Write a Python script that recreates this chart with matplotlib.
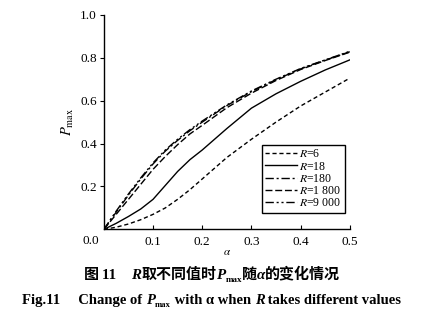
import matplotlib
matplotlib.use('Agg')
import matplotlib.pyplot as plt
from matplotlib.font_manager import FontProperties

# 数据
alpha = [0, 0.025, 0.05, 0.075, 0.1, 0.125, 0.15, 0.175, 0.2, 0.25, 0.3, 0.35, 0.4, 0.45, 0.5]
p_r6 = [0, 0.01, 0.025, 0.045, 0.07, 0.10, 0.14, 0.185, 0.235, 0.335, 0.42, 0.50, 0.575, 0.64, 0.705]
p_r18 = [0, 0.028, 0.06, 0.095, 0.14, 0.205, 0.27, 0.325, 0.37, 0.47, 0.565, 0.632, 0.69, 0.743, 0.79]
p_r180 = [0, 0.08, 0.16, 0.235, 0.305, 0.365, 0.415, 0.46, 0.50, 0.577, 0.642, 0.698, 0.748, 0.789, 0.828]
p_r1800 = [0, 0.07, 0.14, 0.21, 0.28, 0.34, 0.395, 0.445, 0.485, 0.567, 0.635, 0.694, 0.745, 0.787, 0.826]
p_r9000 = [0, 0.085, 0.165, 0.24, 0.31, 0.37, 0.42, 0.465, 0.505, 0.58, 0.645, 0.70, 0.75, 0.79, 0.83]
labels = ['$R$=6', '$R$=18', '$R$=180', '$R$=1 800', '$R$=9 000']
x_ticks = [0.1, 0.2, 0.3, 0.4, 0.5]
y_ticks = [0.2, 0.4, 0.6, 0.8, 1.0]

plt.rcParams['font.family'] = ['Liberation Serif', 'DejaVu Serif']
plt.rcParams['mathtext.fontset'] = 'stix'

fig = plt.figure(figsize=(4.24, 3.30), dpi=100)
ax = fig.add_axes([0.245, 0.305, 0.58, 0.65])

styles = [(0, (3, 2)), '-', (0, (6, 2, 1.5, 2)), (0, (5, 2)), (0, (6, 2, 1.5, 2, 1.5, 2))]
series = [p_r6, p_r18, p_r180, p_r1800, p_r9000]
for ys, ls, lab in zip(series, styles, labels):
    ax.plot(alpha, ys, color='black', linestyle=ls, linewidth=1.0, label=lab)

ax.set_xlim(0, 0.5)
ax.set_ylim(0, 1.0)
ax.set_xticks(x_ticks)
ax.set_yticks(y_ticks)
ax.set_xticklabels(['0.1', '0.2', '0.3', '0.4', '0.5'])
ax.set_yticklabels(['0.2', '0.4', '0.6', '0.8', '1.0'])
ax.tick_params(axis='x', direction='in', length=3, width=0.8, labelsize=9.5, pad=5)
ax.tick_params(axis='y', direction='out', length=3, width=0.8, labelsize=9.5, pad=2)
for s in ['top', 'right']:
    ax.spines[s].set_visible(False)
for s in ['left', 'bottom']:
    ax.spines[s].set_linewidth(1.0)
ax.text(-0.02, -0.025, '0.0', transform=ax.transAxes, ha='right', va='top', fontsize=9.5)

ax.set_xlabel(r'$\alpha$', fontsize=8, labelpad=0)
ax.set_ylabel(r'$P_{\mathrm{max}}$', fontsize=10.5, labelpad=3)

leg = ax.legend(loc='lower right', bbox_to_anchor=(0.98, 0.077), fontsize=8.5,
                frameon=True, fancybox=False, edgecolor='black', framealpha=1,
                handlelength=2.7, handletextpad=0.2, labelspacing=0.02,
                borderpad=0.3, borderaxespad=0)
leg.get_frame().set_linewidth(1.0)


def draw_pieces(pieces, y, size):
    """逐段绘制混合字体的标题, 水平居中"""
    renderer = fig.canvas.get_renderer()
    texts = []
    total = 0
    for txt, fam, style, sub in pieces:
        fp = FontProperties(family=fam, weight='bold', style=style,
                            size=size * (0.6 if sub else 1.0))
        t = fig.text(0, y, txt, fontproperties=fp, va='baseline')
        w = t.get_window_extent(renderer).width
        texts.append((t, w, sub))
        total += w
    W = fig.bbox.width
    x = (W - total) / 2
    for t, w, sub in texts:
        yy = y - (3.0 / fig.bbox.height if sub else 0)
        t.set_position((x / W, yy))
        x += w


serif = ['Liberation Serif']
cjk = ['Noto Sans CJK SC']
draw_pieces([
    ('图 ', cjk, 'normal', False), ('11    ', serif, 'normal', False),
    ('R', serif, 'italic', False), ('取不同值时', cjk, 'normal', False),
    ('P', serif, 'italic', False), ('max', serif, 'normal', True),
    ('随', cjk, 'normal', False), ('α', serif, 'italic', False),
    ('的变化情况', cjk, 'normal', False),
], 0.155, 10.8)

draw_pieces([
    ('Fig.11     Change of ', serif, 'normal', False),
    ('P', serif, 'italic', False), ('max', serif, 'normal', True),
    (' with α when ', serif, 'normal', False),
    ('R', serif, 'italic', False),
    (' takes different values', serif, 'normal', False),
], 0.08, 10.5)

fig.savefig('out.png', dpi=100)
